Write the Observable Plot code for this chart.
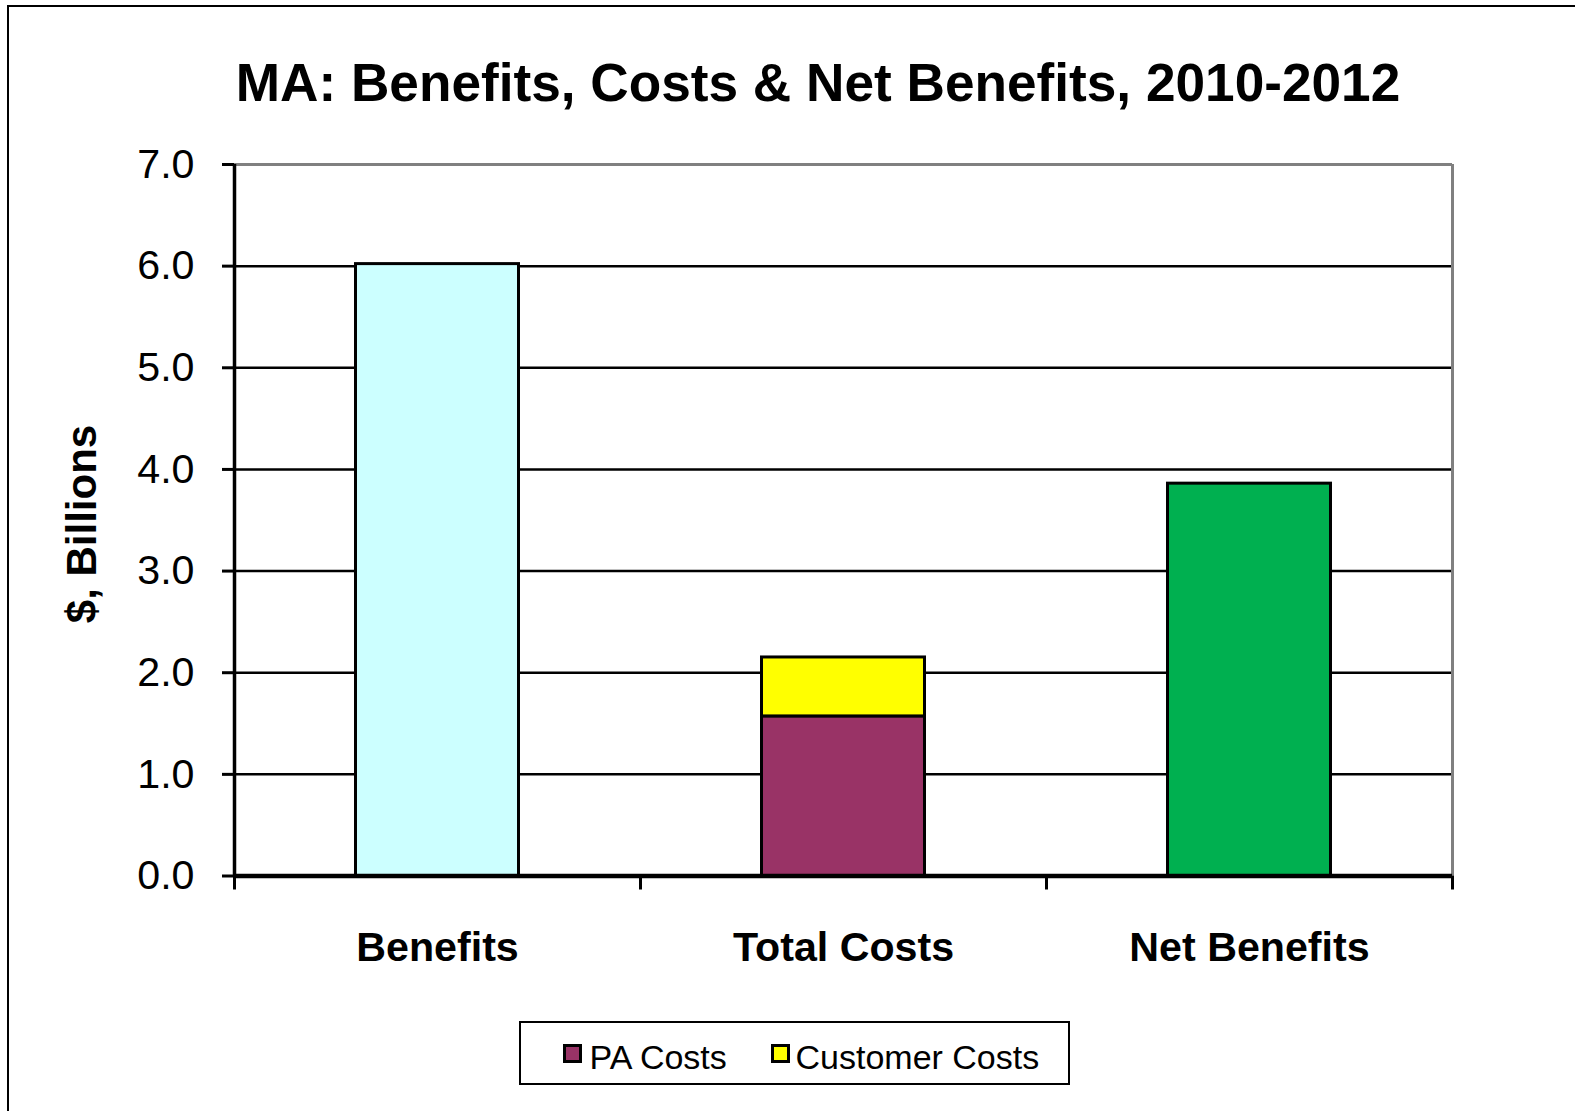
<!DOCTYPE html>
<html>
<head>
<meta charset="utf-8">
<script src="https://cdn.jsdelivr.net/npm/d3@7"></script>
<script src="https://cdn.jsdelivr.net/npm/@observablehq/plot@0.6"></script>
<style>
  html, body { margin: 0; padding: 0; background: #fff; overflow: hidden; }
  body { width: 1575px; height: 1111px; position: relative; font-family: "Liberation Sans", Arial, sans-serif; }
  #frame { position: absolute; left: 7px; top: 5px; width: 1568px; height: 1106px; border-left: 2.5px solid #000; border-top: 2.5px solid #000; box-sizing: border-box; }
  #title { position: absolute; left: 61px; width: 1514px; top: 53px; text-align: center; font-size: 53.2px; font-weight: bold; white-space: nowrap; line-height: 60px; }
  #ylabel { position: absolute; left: 82px; top: 524px; transform: translate(-50%, -50%) rotate(-90deg); font-size: 42px; font-weight: bold; white-space: nowrap; }
  #chart { position: absolute; left: 0; top: 0; width: 1575px; height: 1111px; }
  #chart svg { max-width: none !important; }
  #legend { position: absolute; left: 519px; top: 1021px; width: 551px; height: 64px; border: 2.5px solid #000; box-sizing: border-box; }
  .sw { position: absolute; top: 20.5px; width: 13px; height: 13px; border: 3px solid #000; }
  .lt { position: absolute; top: 16.5px; font-size: 34px; line-height: 34px; white-space: nowrap; }
</style>
</head>
<body>
<div id="frame"></div>
<div id="chart"></div>
<div id="title"></div>
<div id="ylabel"></div>
<div id="legend"></div>
<script>
const titleText = "MA: Benefits, Costs & Net Benefits, 2010-2012";
const yLabel = "$, Billions";
const categories = ["Benefits", "Total Costs", "Net Benefits"];
const series = ["Benefits", "PA Costs", "Customer Costs", "Net Benefits"];
const seriesCategory = ["Benefits", "Total Costs", "Total Costs", "Net Benefits"];
const values = [6.02, 1.57, 0.58, 3.86];
const colors = ["#ccffff", "#993366", "#ffff00", "#00b050"];
const legendSeries = ["PA Costs", "Customer Costs"];
const yTicks = [0, 1, 2, 3, 4, 5, 6, 7];

// stacked rows
const cum = {};
const rows = series.map((s, i) => {
  const c = seriesCategory[i];
  const base = cum[c] || 0;
  cum[c] = base + values[i];
  const idx = categories.indexOf(c);
  return {series: s, x1: idx, x2: idx + 1, y1: base, y2: base + values[i], color: colors[i]};
});

document.getElementById("title").textContent = titleText;
document.getElementById("ylabel").textContent = yLabel;

const chart = Plot.plot({
  width: 1575,
  height: 1111,
  marginLeft: 234,
  marginRight: 123,
  marginTop: 164,
  marginBottom: 235.5,
  style: {fontFamily: "'Liberation Sans', Arial, sans-serif", background: "transparent", color: "#000"},
  x: {domain: [0, categories.length], axis: null},
  y: {domain: [0, 7], axis: null},
  marks: [
    Plot.ruleY(yTicks.filter(t => t > 0 && t < 7), {stroke: "#000", strokeWidth: 2.5}),
    Plot.ruleY([7], {stroke: "#808080", strokeWidth: 3.2}),
    Plot.ruleX([categories.length], {stroke: "#808080", strokeWidth: 3}),
    Plot.rect(rows, {x1: "x1", x2: "x2", y1: "y1", y2: "y2", fill: "color", stroke: "#000", strokeWidth: 3, insetLeft: 121.5, insetRight: 121.5}),
    Plot.ruleY([0], {stroke: "#000", strokeWidth: 4.3}),
    Plot.ruleX([0], {stroke: "#000", strokeWidth: 3.5}),
    Plot.axisY({ticks: yTicks, tickFormat: d3.format(".1f"), tickSize: 12, tickPadding: 28, fontSize: 41.2, strokeWidth: 3, stroke: "#000", label: null}),
    Plot.axisX({ticks: d3.range(categories.length + 1), tickFormat: () => "", tickSize: 14, strokeWidth: 3, stroke: "#000", label: null}),
    Plot.text(categories, {x: (d, i) => i + 0.5, y: () => 0, dy: 71.5, fontSize: 41.2, fontWeight: "bold", fill: "#000"})
  ]
});
document.getElementById("chart").appendChild(chart);

const legend = document.getElementById("legend");
const swLeft = [41.5, 249.5];
const txtLeft = [68.5, 274.5];
legendSeries.forEach((s, i) => {
  const sw = document.createElement("div");
  sw.className = "sw";
  sw.style.left = swLeft[i] + "px";
  sw.style.background = colors[series.indexOf(s)];
  const t = document.createElement("span");
  t.className = "lt";
  t.style.left = txtLeft[i] + "px";
  t.textContent = s;
  legend.appendChild(sw);
  legend.appendChild(t);
});
</script>
</body>
</html>
